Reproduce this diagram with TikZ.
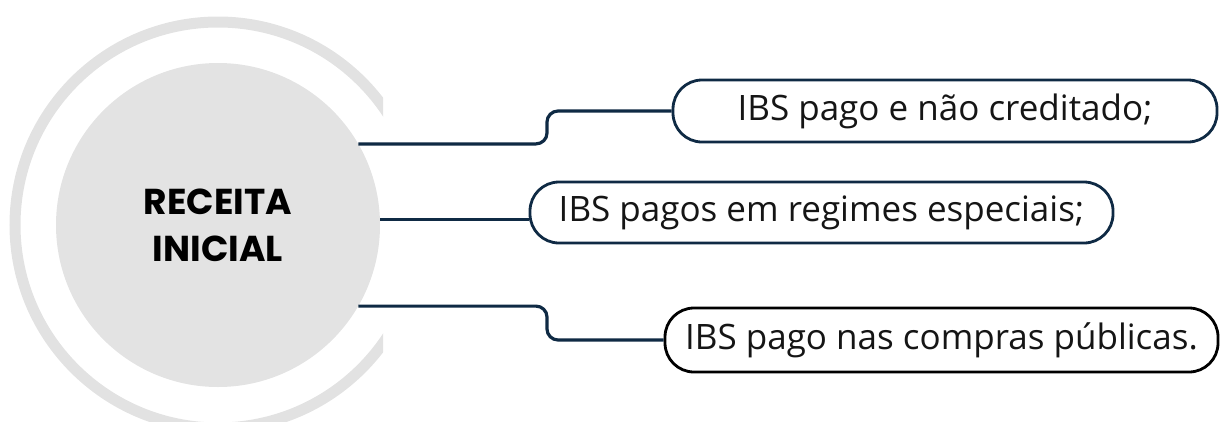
\documentclass[tikz,border=0pt]{standalone}
\usepackage{fontspec}
\setmainfont{Open Sans}
\newfontfamily\titlefont{Poppins}
\definecolor{navy}{HTML}{0F2A44}
\definecolor{ringgray}{HTML}{E2E2E2}
\definecolor{fillgray}{HTML}{E3E3E3}
\definecolor{txt}{HTML}{151515}
\tikzset{
  pill/.style={draw=navy, line width=2.8pt, fill=white, rounded corners=29pt,
    inner sep=0pt, text=txt, font=\fontsize{35}{40}\selectfont},
  link/.style={draw=navy, line width=3.2pt, rounded corners=11pt},
}
\begin{document}
\begin{tikzpicture}[x=1pt,y=-1pt]
\useasboundingbox (0,0) rectangle (1220,421);
% outer ring, open on the right
\begin{scope}
  \clip (0,0) rectangle (383,421);
  \draw[ringgray, line width=11pt] (218,225) circle[radius=203];
\end{scope}
% central circle
\node[circle, fill=fillgray, minimum size=324pt, inner sep=0pt,
      align=center, text=black,
      font=\titlefont\bfseries\fontsize{36}{47}\selectfont] (c) at (218,225)
      {RECEITA\\INICIAL};
% boxes
\node[pill, minimum width=544pt, minimum height=62pt] (b1) at (945,111)
  {IBS pago e não creditado;};
\node[pill, minimum width=583pt, minimum height=61pt] (b2) at (821.5,212.5)
  {IBS pagos em regimes especiais;};
\node[pill, draw=black, minimum width=553pt, minimum height=64pt] (b3) at (941.5,340)
  {IBS pago nas compras públicas.};
% connectors
\coordinate (k1) at (547,0);
\draw[link] (c.30) -- (c.30 -| k1) -- (k1 |- b1.west) -- (b1.west);
\draw[link] (c.2) -- (c.2 -| b2.west);
\draw[link] (c.-30) -- (c.-30 -| k1) -- (k1 |- b3.west) -- (b3.west);
\end{tikzpicture}
\end{document}
